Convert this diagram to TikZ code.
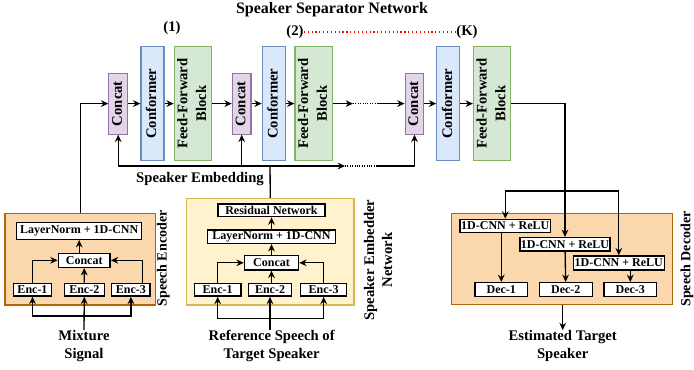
\documentclass[tikz,border=0pt]{standalone}
\usepackage{fontspec}
\setmainfont{Liberation Serif}
\usetikzlibrary{arrows.meta}

\definecolor{catfill}{HTML}{E1D5E7}
\definecolor{catline}{HTML}{9673A6}
\definecolor{conffill}{HTML}{DAE8FC}
\definecolor{confline}{HTML}{6C8EBF}
\definecolor{fffill}{HTML}{D5E8D4}
\definecolor{ffline}{HTML}{82B366}
\definecolor{orfill}{HTML}{FAD7AC}
\definecolor{orline}{HTML}{B46504}
\definecolor{yefill}{HTML}{FFF2CC}
\definecolor{yeline}{HTML}{D6B656}

\newcommand{\vlab}[1]{\rotatebox{90}{\begin{tabular}{@{}c@{}}#1\end{tabular}}}

\tikzset{
  blk/.style={draw, line width=0.9pt, inner sep=0pt, font=\fontsize{11}{14}\selectfont\bfseries},
  catblk/.style={blk, draw=catline, fill=catfill, minimum width=11.25pt, minimum height=45.75pt},
  confblk/.style={blk, draw=confline, fill=conffill, minimum width=17.25pt, minimum height=85.5pt},
  ffblk/.style={blk, draw=ffline, fill=fffill, minimum width=25.5pt, minimum height=85.5pt},
  sbox/.style={draw, line width=1.1pt, fill=white, inner sep=0.5pt, font=\fontsize{9}{10}\selectfont\bfseries},
  orbg/.style={draw=orline, fill=orfill, line width=0.8pt, inner sep=0pt},
  yebg/.style={draw=yeline, fill=yefill, line width=0.8pt, inner sep=0pt},
  lbl/.style={inner sep=0pt, align=center, font=\fontsize{11}{13.5}\selectfont\bfseries},
  arr/.style={-{Stealth[length=5.5pt,width=5pt]}, line width=1pt},
  ln/.style={line width=1pt},
  gapln/.style={densely dotted, line width=0.8pt},
}

\begin{document}
\begin{tikzpicture}[x=0.75pt,y=-0.75pt]
\useasboundingbox (0,0) rectangle (694,369);

% Title and stage numbers
\node[lbl, font=\fontsize{12}{14}\selectfont\bfseries] (title) at (332,10) {Speaker Separator Network};
\node[lbl] (st1) at (172,28) {(1)};
\node[lbl] (st2) at (295,32) {(2)};
\node[lbl] (stK) at (467,32) {(K)};
\draw[red, dotted, line width=0.9pt] (st2.east) -- (stK.west);

% Separator blocks
\node[catblk] (c1) at (118.2,103.6) {\vlab{Concat}};
\node[confblk] (cf1) at (152.5,103.6) {\vlab{Conformer}};
\node[ffblk] (ff1) at (193,103.6) {\vlab{Feed-Forward\\Block}};
\node[catblk] (c2) at (241.7,103.6) {\vlab{Concat}};
\node[confblk] (cf2) at (273.8,103.6) {\vlab{Conformer}};
\node[ffblk] (ff2) at (313.7,103.6) {\vlab{Feed-Forward\\Block}};
\node[catblk] (cK) at (414.5,103.6) {\vlab{Concat}};
\node[confblk] (cfK) at (448.3,103.6) {\vlab{Conformer}};
\node[ffblk] (ffK) at (492.2,103.6) {\vlab{Feed-Forward\\Block}};

% Speech encoder
\node[orbg, minimum width=113pt, minimum height=68.8pt] (enc) at (80.35,259.15) {};
\node[sbox, minimum width=93.75pt, minimum height=12.75pt] (eln) at (79.2,230.8) {LayerNorm + 1D-CNN};
\node[sbox, minimum width=38.8pt, minimum height=10.5pt] (ecat) at (84.2,260.3) {Concat};
\node[sbox, minimum width=28.8pt, minimum height=9.5pt] (e1) at (32.5,289.7) {Enc-1};
\node[sbox, minimum width=30pt, minimum height=9.5pt] (e2) at (84.3,289.7) {Enc-2};
\node[sbox, minimum width=28.8pt, minimum height=9.5pt] (e3) at (130.9,289.7) {Enc-3};
\node[lbl, rotate=90, font=\fontsize{10.5}{12}\selectfont\bfseries] (enclab) at (163.3,258.5) {Speech Encoder};
\node[lbl] (mix) at (84,346) {Mixture\\Signal};

% Speaker embedder
\node[yebg, minimum width=125.5pt, minimum height=80pt] (emb) at (270.3,251.65) {};
\node[sbox, minimum width=80pt, minimum height=9.5pt] (eres) at (271.5,210.3) {Residual Network};
\node[sbox, minimum width=96.3pt, minimum height=10pt] (eln2) at (271.5,236.7) {LayerNorm + 1D-CNN};
\node[sbox, minimum width=40.5pt, minimum height=10.7pt] (ecat2) at (271.5,262.8) {Concat};
\node[sbox, minimum width=35pt, minimum height=9.5pt] (f1) at (217.7,289.7) {Enc-1};
\node[sbox, minimum width=32.5pt, minimum height=9.5pt] (f2) at (270,289.7) {Enc-2};
\node[sbox, minimum width=34.5pt, minimum height=9.5pt] (f3) at (323.7,289.7) {Enc-3};
\node[lbl, rotate=90] (emblab) at (378,260) {Speaker Embedder\\Network};
\node[lbl] (ref) at (271.7,346) {Reference Speech of\\Target Speaker};

% Speech decoder
\node[orbg, minimum width=165.5pt, minimum height=68.25pt] (dec) at (562,258.8) {};
\node[sbox, minimum width=68pt, minimum height=10pt] (cnn1) at (505.3,226) {1D-CNN + ReLU};
\node[sbox, minimum width=67.5pt, minimum height=10pt] (cnn2) at (565,244.3) {1D-CNN + ReLU};
\node[sbox, minimum width=68.3pt, minimum height=10.5pt] (cnn3) at (618.8,263) {1D-CNN + ReLU};
\node[sbox, minimum width=39.5pt, minimum height=10.5pt] (d1) at (501.3,289.7) {Dec-1};
\node[sbox, minimum width=39.7pt, minimum height=10.5pt] (d2) at (565.8,289.7) {Dec-2};
\node[sbox, minimum width=39.5pt, minimum height=10.5pt] (d3) at (630.3,289.7) {Dec-3};
\node[lbl, rotate=90, font=\fontsize{10.5}{12}\selectfont\bfseries] (declab) at (687,259) {Speech Decoder};
\node[lbl] (out) at (562.7,346) {Estimated Target\\Speaker};

\node[lbl] (selab) at (200,179) {Speaker Embedding};

% Separator chain
\draw[arr] (enc.north) |- (c1.west);
\draw[arr] (c1) -- (cf1);
\draw[arr] (cf1) -- (ff1);
\draw[arr] (ff1) -- (c2);
\draw[arr] (c2) -- (cf2);
\draw[arr] (cf2) -- (ff2);
\coordinate (gap1) at (353,103.6);
\coordinate (gap2) at (377,103.6);
\draw[arr] (ff2) -- (gap1);
\draw[gapln] (gap1) -- (gap2);
\draw[arr] (gap2) -- (cK);
\draw[arr] (cK) -- (cfK);
\draw[arr] (cfK) -- (ffK);

% Speaker embedding bus
\coordinate (se) at (270,166);
\coordinate (gap3) at (345,166);
\coordinate (gap4) at (377,166);
\draw[ln] (emb.north) -- (se);
\draw[arr] (se) -| (c1.south);
\draw[arr] (se -| c2.south) -- (c2.south);
\draw[arr] (se) -- (gap3);
\draw[gapln] (gap3) -- (gap4);
\draw[arr] (gap4) -| (cK.south);

% Separator to decoder
\coordinate (split) at (565,191);
\draw[arr] (ffK) -| (cnn2);
\draw[arr] (split) -| (cnn1);
\draw[arr] (split) -| (cnn3);
\draw[arr] (d1.north |- cnn1.south) -- (d1.north);
\draw[arr] (cnn2) -- (d2);
\draw[arr] (d3.north |- cnn3.south) -- (d3.north);
\draw[arr] (dec.south -| out.north) -- (out.north);

% Encoder inside
\draw[arr] (ecat.north -| eln.south) -- (eln.south);
\draw[arr] (e2) -- (ecat);
\draw[arr] (e1.north) |- (ecat.west);
\draw[arr] ([xshift=8.8pt]e3.north) |- (ecat.east);
\coordinate (mixbus) at (84,316);
\draw[arr] (mix.north) -- (e2.south);
\draw[arr] (mixbus) -| (e1.south);
\draw[arr] (mixbus) -| (e3.south);

% Embedder inside
\draw[arr] (eln2) -- (eres);
\draw[arr] (ecat2) -- (eln2);
\draw[arr] (f2.north -| ecat2.south) -- (ecat2.south);
\draw[arr] (f1.north) |- (ecat2.west);
\draw[arr] (f3.north) |- (ecat2.east);
\coordinate (refbus) at (270,318.3);
\draw[arr] (ref.north -| f2.south) -- (f2.south);
\draw[arr] (refbus) -| (f1.south);
\draw[arr] (refbus) -| (f3.south);

\end{tikzpicture}
\end{document}
